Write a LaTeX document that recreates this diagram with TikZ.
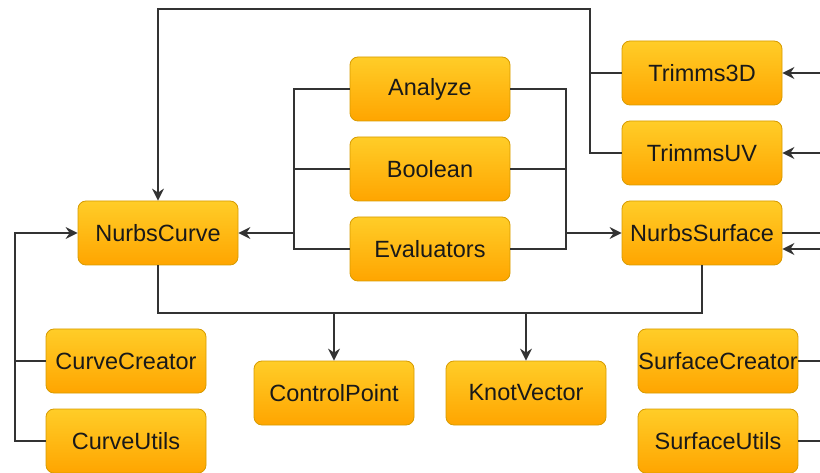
\documentclass[tikz,border=0pt]{standalone}
\usepackage{fontspec}
\setmainfont{Liberation Sans}
\usepackage{xcolor}
\usetikzlibrary{arrows.meta}
\definecolor{boxtop}{HTML}{FFCD28}
\definecolor{boxbot}{HTML}{FFA500}
\definecolor{boxline}{HTML}{D79B00}
\definecolor{wire}{HTML}{333333}

\begin{document}
\begin{tikzpicture}[
      x=1pt, y=-1pt,
      box/.style={draw=boxline, line width=0.8pt, rounded corners=8pt,
        top color=boxtop, bottom color=boxbot,
        minimum width=160pt, minimum height=64pt, inner sep=0pt,
        font=\fontsize{23.5}{28}\selectfont, text=black!90},
      wire/.style={draw=wire, line width=1.4pt},
      arr/.style={wire, -{Stealth[length=12pt, width=12pt, inset=4pt]}}
    ]
    \useasboundingbox (0,0) rectangle (820,473);

    % Kästen
    \node[box] (analyze) at (430,89) {Analyze};
    \node[box] (boolean) at (430,169) {Boolean};
    \node[box] (evaluators) at (430,249) {Evaluators};
    \node[box] (curve) at (158,233) {NurbsCurve};
    \node[box] (trims3d) at (702,73) {Trimms3D};
    \node[box] (trimsuv) at (702,153) {TrimmsUV};
    \node[box] (surface) at (702,233) {NurbsSurface};
    \node[box] (ccreator) at (126,361) {CurveCreator};
    \node[box] (cutils) at (126,441) {CurveUtils};
    \node[box] (cpoint) at (334,393) {ControlPoint};
    \node[box] (kvector) at (526,393) {KnotVector};
    \node[box] (screator) at (718,361) {SurfaceCreator};
    \node[box] (sutils) at (718,441) {SurfaceUtils};

    % Hilfspunkte
    \coordinate (lbus) at (294,233);
    \coordinate (rbus) at (566,233);
    \coordinate (top) at (590,9);
    \coordinate (bus) at (430,313);
    \coordinate (lrail) at (15,233);
    \coordinate (redge) at (820,0);

    % Mitte
    \draw[wire] (analyze.west) -| (lbus) |- (evaluators.west);
    \draw[wire] (boolean.west) -- (boolean.west -| lbus);
    \draw[arr] (lbus) -- (curve.east);
    \draw[wire] (analyze.east) -| (rbus) |- (evaluators.east);
    \draw[wire] (boolean.east) -- (boolean.east -| rbus);
    \draw[arr] (rbus) -- (surface.west);

    % Oben
    \draw[arr] (trimsuv.west) -| (top) -| (curve.north);
    \draw[wire] (trims3d.west) -- (trims3d.west -| top);

    % Unten
    \draw[wire] (curve.south) |- (bus) -| (surface.south);
    \draw[arr] (cpoint.north |- bus) -- (cpoint.north);
    \draw[arr] (kvector.north |- bus) -- (kvector.north);

    % Links
    \draw[arr] (cutils.west) -| (lrail) -- (curve.west);
    \draw[wire] (ccreator.west) -- (ccreator.west -| lrail);

    % Rechter Rand
    \draw[arr] (trims3d.east -| redge) -- (trims3d.east);
    \draw[arr] (trimsuv.east -| redge) -- (trimsuv.east);
    \draw[wire] (surface.east) -- (surface.east -| redge);
    \draw[arr] ([yshift=-16pt]surface.east -| redge) -- ([yshift=-16pt]surface.east);
    \draw[wire] (screator.east) -- (screator.east -| redge);
    \draw[wire] (sutils.east) -- (sutils.east -| redge);
  \end{tikzpicture}
\end{document}
